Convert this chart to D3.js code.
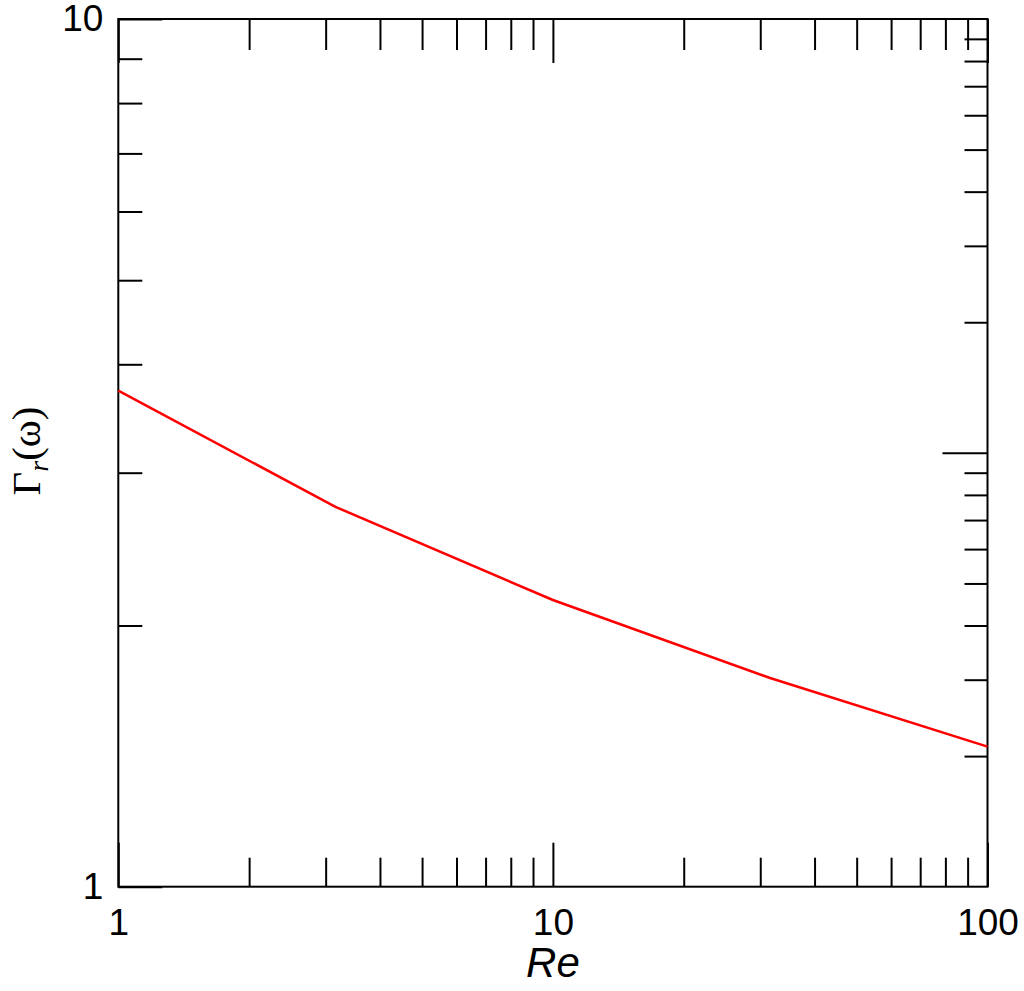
<!DOCTYPE html>
<html>
<head>
<meta charset="utf-8">
<script src="https://cdn.jsdelivr.net/npm/d3@7"></script>
<style>
  body { margin: 0; background: #fff; }
  svg { display: block; }
  .axis text { font-family: "Liberation Sans", Arial, sans-serif; font-size: 37px; fill: #000; }
  .axis line { stroke: #000; stroke-width: 2px; }
</style>
</head>
<body>
<svg class="chart" width="1024" height="991"></svg>
<script>
// values
var reValues = [1, 3.16, 10, 31.6, 100];
var gammaValues = [3.73, 2.74, 2.14, 1.74, 1.45];

var xMajor = [1, 10, 100];
var xMinor = [2, 3, 4, 5, 6, 7, 8, 9, 20, 30, 40, 50, 60, 70, 80, 90];
var yMajor = [1, 10];
var yMinor = [2, 3, 4, 5, 6, 7, 8, 9];
// right side carries its own two-decade log scale, unlabelled
var rightMajor = [10];
var rightMinor = [2, 3, 4, 5, 6, 7, 8, 9, 20, 30, 40, 50, 60, 70, 80, 90];

var svg = d3.select("svg.chart"),
    margin = { top: 19, left: 118.3 },
    width = 869.2,
    height = 867.7;

var g = svg.append("g").attr("transform", "translate(" + margin.left + "," + margin.top + ")");

var x = d3.scaleLog().domain([1, 100]).range([0, width]);
var y = d3.scaleLog().domain([1, 10]).range([height, 0]);
var yRight = d3.scaleLog().domain([1, 100]).range([height, 0]);

function noLabels(a) { return a.tickFormat(function () { return ""; }); }

// bottom
g.append("g").attr("class", "axis").attr("transform", "translate(0," + height + ")")
    .call(noLabels(d3.axisBottom(x).tickValues(xMinor).tickSize(-29)));
g.append("g").attr("class", "axis").attr("transform", "translate(0," + height + ")")
    .call(d3.axisBottom(x).tickValues(xMajor).tickSize(-44).tickPadding(22).tickFormat(d3.format("d")));

// top
g.append("g").attr("class", "axis")
    .call(noLabels(d3.axisTop(x).tickValues(xMinor).tickSize(-31)));
g.append("g").attr("class", "axis")
    .call(noLabels(d3.axisTop(x).tickValues(xMajor).tickSize(-44)));

// left
g.append("g").attr("class", "axis")
    .call(noLabels(d3.axisLeft(y).tickValues(yMinor).tickSize(-24)));
g.append("g").attr("class", "axis")
    .call(d3.axisLeft(y).tickValues(yMajor).tickSize(-44).tickPadding(15).tickFormat(d3.format("d")));

// right
g.append("g").attr("class", "axis").attr("transform", "translate(" + width + ",0)")
    .call(noLabels(d3.axisRight(yRight).tickValues(rightMinor).tickSize(-23)));
g.append("g").attr("class", "axis").attr("transform", "translate(" + width + ",0)")
    .call(noLabels(d3.axisRight(yRight).tickValues(rightMajor).tickSize(-45)));

g.selectAll(".axis .domain").remove();

g.append("rect")
    .attr("width", width)
    .attr("height", height)
    .attr("fill", "none")
    .attr("stroke", "#000")
    .attr("stroke-width", 2);

var line = d3.line()
    .x(function (d, i) { return x(reValues[i]); })
    .y(function (d) { return y(d); });

g.append("path")
    .datum(gammaValues)
    .attr("fill", "none")
    .attr("stroke", "#ff0000")
    .attr("stroke-width", 2.5)
    .attr("d", line);

// axis titles
svg.append("text")
    .attr("x", margin.left + x(10))
    .attr("y", 977)
    .attr("text-anchor", "middle")
    .attr("font-family", "Liberation Sans, Arial, sans-serif")
    .attr("font-style", "italic")
    .attr("font-size", 42)
    .text("Re");

var ylab = svg.append("text")
    .attr("transform", "translate(40,451) rotate(-90)")
    .attr("text-anchor", "middle")
    .attr("font-family", "Liberation Serif, 'Times New Roman', serif")
    .attr("font-size", 41);
ylab.append("tspan").text("\u0393");
ylab.append("tspan").attr("font-style", "italic").attr("font-size", 28).attr("dy", 8).text("r");
ylab.append("tspan").attr("dy", -8).text("(\u03c9)");
</script>
</body>
</html>
